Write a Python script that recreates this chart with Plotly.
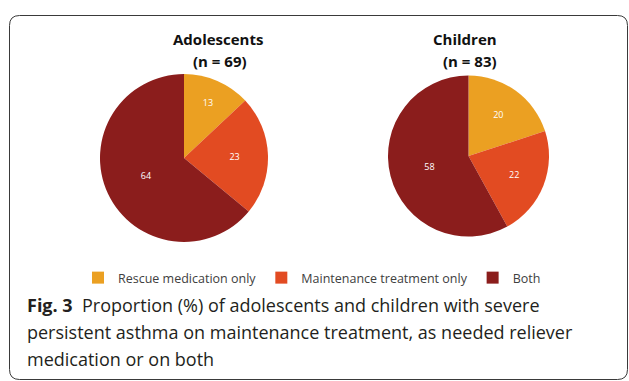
import plotly.graph_objects as go

categories = ["Rescue medication only", "Maintenance treatment only", "Both"]
adolescents = [13, 23, 64]
children = [20, 22, 58]
colors = ["#EBA022", "#E24B22", "#8B1D1C"]
group_names = ["Adolescents", "Children"]
group_n = ["(n = 69)", "(n = 83)"]
caption_lines = ["<b>Fig. 3</b>  Proportion (%) of adolescents and children with severe",
                 "persistent asthma on maintenance treatment, as needed reliever",
                 "medication or on both"]

W, H = 629, 381
def px(x): return x / W
def py(y): return 1 - y / H

fig = go.Figure()
fig.add_trace(go.Pie(
    labels=categories, values=adolescents, sort=False, direction="clockwise",
    marker=dict(colors=colors, line=dict(width=0)),
    textinfo="value", textposition="inside", insidetextorientation="horizontal",
    textfont=dict(color="white", size=9, family="Open Sans"),
    domain=dict(x=[px(100), px(268)], y=[py(242), py(74)]),
    hoverinfo="label+value", showlegend=True,
))
fig.add_trace(go.Pie(
    labels=categories, values=children, sort=False, direction="clockwise",
    marker=dict(colors=colors, line=dict(width=0)),
    textinfo="value", textposition="inside", insidetextorientation="horizontal",
    textfont=dict(color="white", size=9, family="Open Sans"),
    domain=dict(x=[px(388), px(549)], y=[py(237), py(75)]),
    hoverinfo="label+value", showlegend=False,
))

# group titles
for name, n, xc, xn in zip(group_names, group_n, [218, 465], [220, 470]):
    fig.add_annotation(x=px(xc), y=py(39), xref="paper", yref="paper",
                       text="<b>" + name + "</b>", showarrow=False,
                       font=dict(size=15, color="#111111", family="Open Sans"),
                       xanchor="center", yanchor="middle")
    fig.add_annotation(x=px(xn), y=py(61), xref="paper", yref="paper",
                       text="<b>" + n + "</b>", showarrow=False,
                       font=dict(size=15, color="#111111", family="Open Sans"),
                       xanchor="center", yanchor="middle")

# caption
for i, line in enumerate(caption_lines):
    fig.add_annotation(x=px(25), y=py(305 + 27 * i), xref="paper", yref="paper",
                       text=line, showarrow=False, align="left",
                       xanchor="left", yanchor="middle",
                       font=dict(size=18, color="#231F20", family="Open Sans"))

# rounded border
l, t, r, b, rad = 9.5, 15.5, 627.5, 379.5, 10
path = (f"M {px(l+rad)},{py(t)} L {px(r-rad)},{py(t)} Q {px(r)},{py(t)} {px(r)},{py(t+rad)} "
        f"L {px(r)},{py(b-rad)} Q {px(r)},{py(b)} {px(r-rad)},{py(b)} "
        f"L {px(l+rad)},{py(b)} Q {px(l)},{py(b)} {px(l)},{py(b-rad)} "
        f"L {px(l)},{py(t+rad)} Q {px(l)},{py(t)} {px(l+rad)},{py(t)} Z")
fig.add_shape(type="path", path=path, xref="paper", yref="paper",
              line=dict(color="#3a3a3a", width=1))

fig.update_layout(
    width=W, height=H, margin=dict(l=0, r=0, t=0, b=0),
    paper_bgcolor="white", plot_bgcolor="white",
    legend=dict(orientation="h", x=px(312), xanchor="center", y=py(278), yanchor="middle",
                font=dict(size=12.5, color="#404040", family="Open Sans"),
                itemwidth=30, traceorder="normal"),
)

fig.write_html("out.html")
